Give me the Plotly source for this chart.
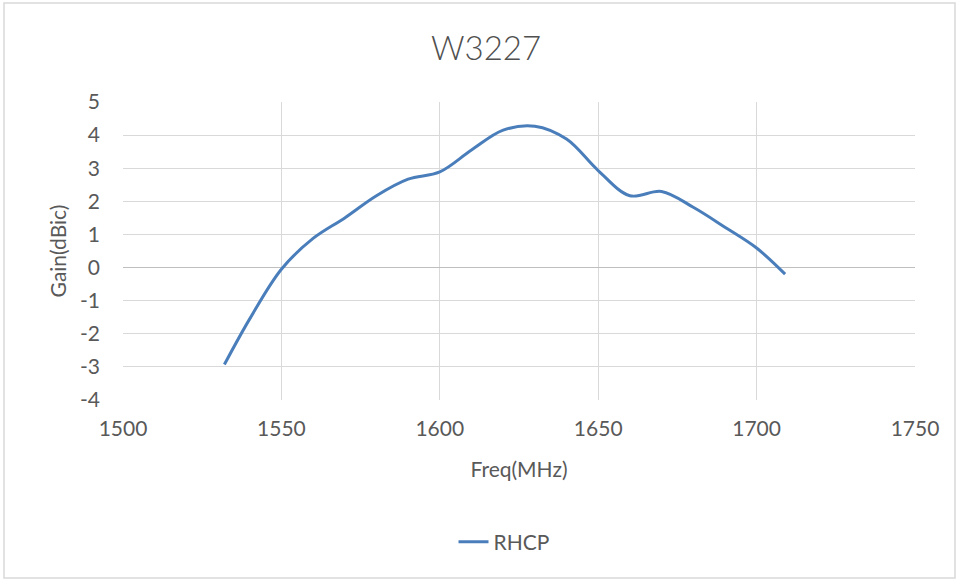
import plotly.graph_objects as go

freq_mhz = [1532, 1540, 1550, 1560, 1570, 1580, 1590, 1600, 1610, 1620,
            1630, 1640, 1650, 1660, 1670, 1680, 1690, 1700, 1709]
gain_dbic = [-2.93, -1.55, -0.05, 0.88, 1.5, 2.17, 2.67, 2.89, 3.55, 4.15,
             4.27, 3.88, 2.93, 2.17, 2.3, 1.82, 1.22, 0.59, -0.2]
x_ticks = [1500, 1550, 1600, 1650, 1700, 1750]
y_ticks = [5, 4, 3, 2, 1, 0, -1, -2, -3, -4]
y_tick_text = [str(v) for v in y_ticks]

TXT = "#595959"
GRID = "#D9D9D9"
FONT = "Lato, 'Open Sans', sans-serif"

fig = go.Figure()
fig.add_trace(go.Scatter(
    x=freq_mhz, y=gain_dbic, mode="lines", name="RHCP",
    line=dict(color="#4A7EBB", width=3, shape="spline", smoothing=1.0),
))

W, H = 957, 580
L, R, T, B = 123, 957 - 915, 102, 580 - 400
pw, ph = W - L - R, H - T - B

fig.update_layout(
    width=W, height=H,
    margin=dict(l=L, r=R, t=T, b=B, pad=0),
    paper_bgcolor="white", plot_bgcolor="white",
    font=dict(family=FONT, color=TXT, size=21),
    title=dict(text="W3227", x=486 / W, xanchor="center", y=1 - 48 / H,
               yanchor="middle",
               font=dict(family=FONT, size=33, color="#505050", weight=300)),
    showlegend=True,
    legend=dict(orientation="h", x=0.5 - 15 / pw, xanchor="center",
                y=(400 - 542) / ph, yanchor="middle",
                font=dict(size=21, color=TXT)),
    xaxis=dict(range=[1500, 1750], tickvals=x_ticks, showgrid=True,
               gridcolor=GRID, gridwidth=1, zeroline=False, showline=False,
               ticks="", ticklabelstandoff=14,
               title=dict(text="Freq(MHz)", standoff=23,
                          font=dict(size=21, color=TXT))),
    yaxis=dict(range=[-4, 5], tickvals=y_ticks, ticktext=y_tick_text,
               showgrid=True,
               gridcolor=GRID, gridwidth=1, zeroline=True,
               zerolinecolor="#BFBFBF", zerolinewidth=1, showline=False,
               ticks="", ticklabelstandoff=22,
               title=dict(text="Gain(dBic)", standoff=7,
                          font=dict(size=21, color=TXT))),
)

fig.add_shape(type="rect", xref="paper", yref="paper",
              x0=(4 - L) / pw, x1=(955 - L) / pw,
              y0=(400 - 578) / ph, y1=(400 - 3) / ph,
              line=dict(color=GRID, width=1.5), fillcolor="rgba(0,0,0,0)",
              layer="below")

fig.write_html("out.html", config={"displayModeBar": False},
               post_script="document.body.style.margin='0';")
